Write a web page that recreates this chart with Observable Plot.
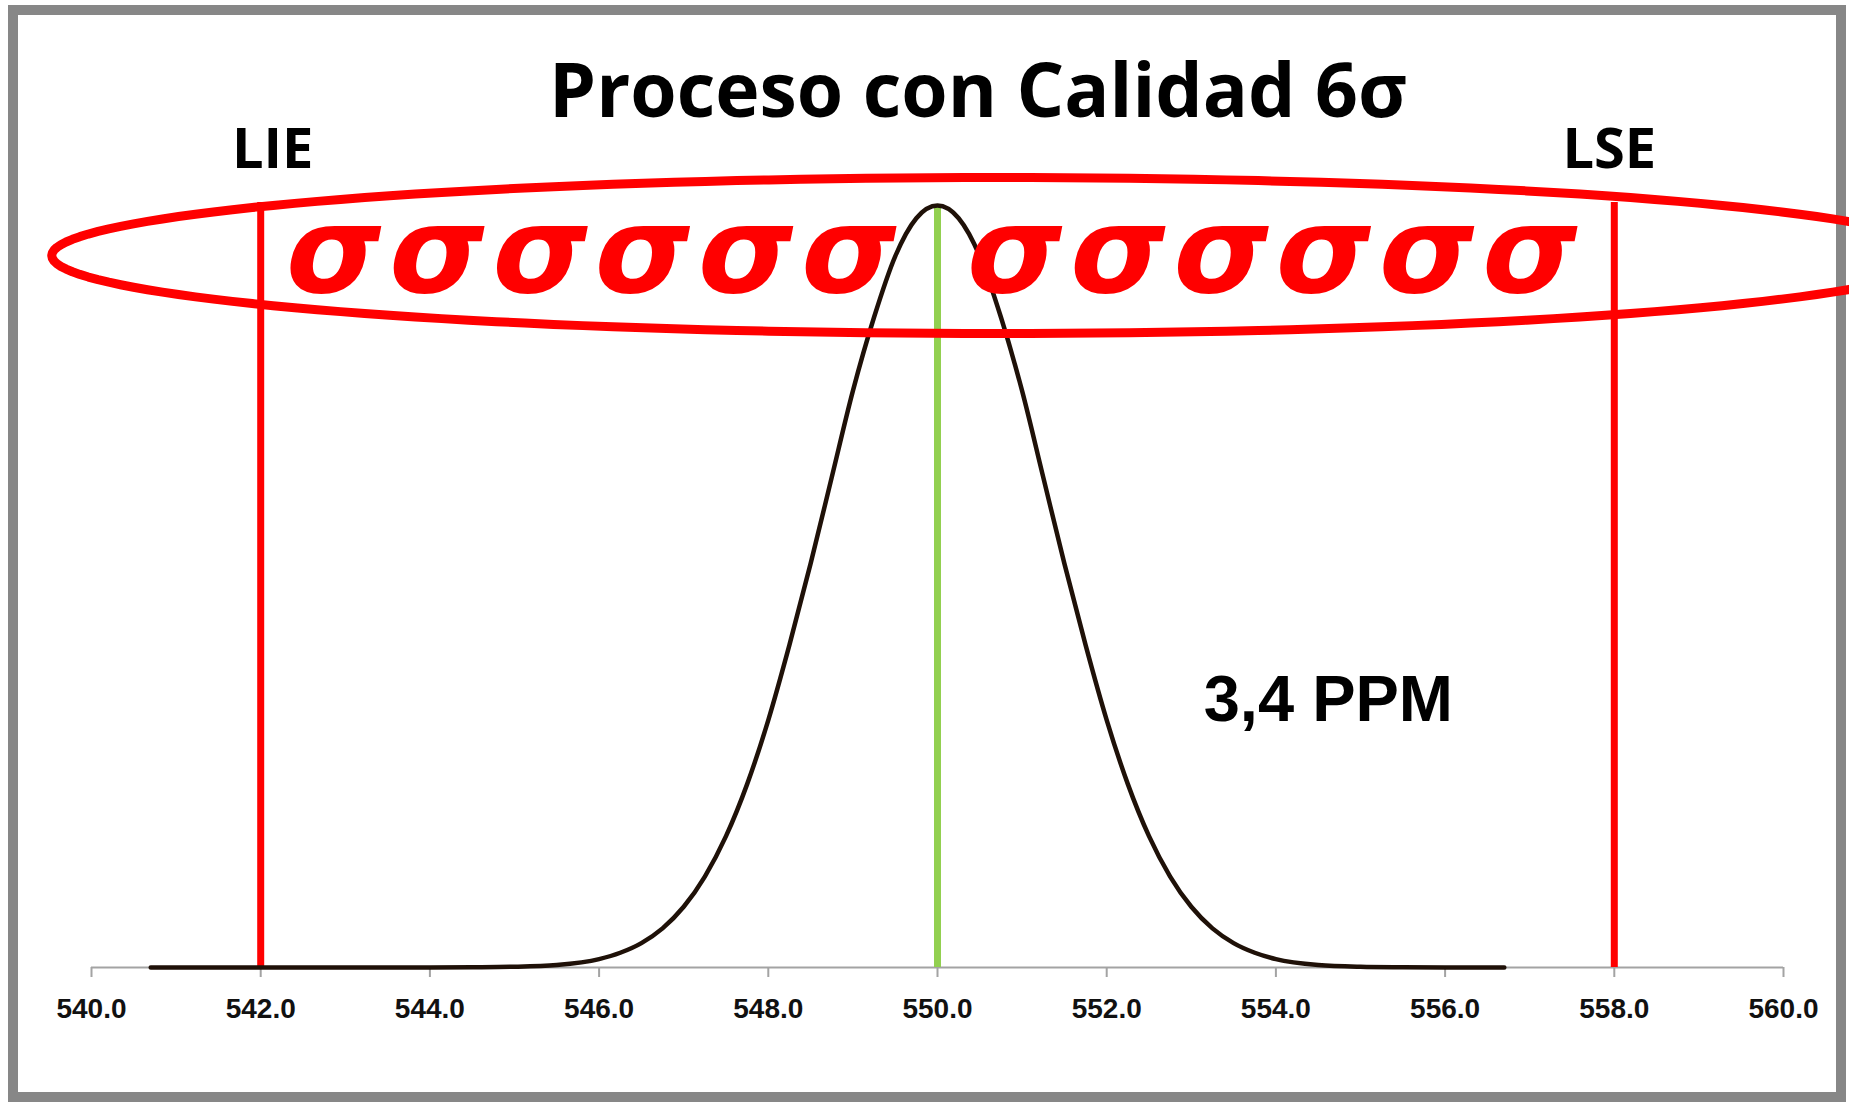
<!DOCTYPE html>
<html>
<head>
<meta charset="utf-8">
<script src="https://cdn.jsdelivr.net/npm/d3@7"></script>
<script src="https://cdn.jsdelivr.net/npm/@observablehq/plot@0.6"></script>
<style>
  html, body { margin: 0; padding: 0; background: #fff; width: 1849px; height: 1104px; overflow: hidden; }
  #frame { position: absolute; left: 8px; top: 5px; width: 1838px; height: 1097px; box-sizing: border-box; border: 10px solid #878787; z-index: 1; }
  #title { position: absolute; left: 0; top: 51px; width: 1956px; text-align: center; font-family: "Open Sans", sans-serif; font-weight: 700; font-size: 75px; line-height: 1; color: #000; margin: 0; z-index: 3; white-space: nowrap; }
  #chart { position: absolute; left: 0; top: 0; z-index: 2; }
  #chart svg { overflow: visible; }
</style>
</head>
<body>
<div id="frame"></div>
<h1 id="title">Proceso con Calidad 6σ</h1>
<div id="chart"></div>
<script>
// ---- data ----
const tickValues = [540, 542, 544, 546, 548, 550, 552, 554, 556, 558, 560];
const curveX = [540.7,541,541.5,542,542.5,543,543.5,544,544.5,545,545.5,546,
  546.25,546.5,546.75,547,547.25,547.5,547.75,548,548.25,548.5,548.75,549,549.25,549.5,549.75,550,
  550.25,550.5,550.75,551,551.25,551.5,551.75,552,552.25,552.5,552.75,553,553.25,553.5,553.75,554,
  554.5,555,555.5,556,556.5,556.7];
const curveY = [0,0,0,0,0,0,0,0,0.0001,0.0003,0.0010,0.0033,
  0.0058,0.0096,0.0154,0.0239,0.0358,0.0517,0.0722,0.0974,0.127,0.159,0.193,0.227,0.256,0.280,0.295,0.300,
  0.295,0.280,0.256,0.227,0.193,0.159,0.127,0.0974,0.0722,0.0517,0.0358,0.0239,0.0154,0.0096,0.0058,0.0033,
  0.0010,0.0003,0.0001,0,0,0];
const specLimits = [542, 558];
const specLabels = ["LIE", "LSE"];
const specTop = 0.3012;
const target = 550;
const targetTop = 0.2992;
const sigmaLeftX = [542.86, 544.08, 545.30, 546.51, 547.73, 548.95];
const sigmaRightX = [550.91, 552.13, 553.35, 554.56, 555.78, 557.00];
const ppmLabel = "3,4 PPM";
const ppmX = 554.62;
const ppmY = 0.1052;
const ellipseCx = 550.71, ellipseCy = 0.2803, ellipseRx = 11.18, ellipseRy = 0.0307;

// ---- derived tables ----
const curve = curveX.map((x, i) => ({x, y: curveY[i]}));
const ellipse = d3.range(0, 361, 2).map(a => {
  const t = a * Math.PI / 180;
  return {x: ellipseCx + ellipseRx * Math.cos(t), y: ellipseCy + ellipseRy * Math.sin(t)};
});
const sigmas = sigmaLeftX.concat(sigmaRightX);

const chart = Plot.plot({
  width: 1849,
  height: 1104,
  marginLeft: 91,
  marginRight: 66,
  marginTop: 205,
  marginBottom: 137,
  x: {domain: [540, 560]},
  y: {domain: [0, 0.30], axis: null},
  style: {background: "transparent", overflow: "visible"},
  marks: [
    Plot.ruleY([0], {stroke: "#a3a3a3", strokeWidth: 2}),
    Plot.axisX({ticks: tickValues, tickFormat: d => d.toFixed(1), tickSize: 10, tickPadding: 21,
      stroke: "#a3a3a3", strokeWidth: 2, fill: "#111", fontSize: 28, fontWeight: "bold",
      fontFamily: "Liberation Sans, Arial, sans-serif", label: null}),
    Plot.ruleX(specLimits, {y1: 0, y2: specTop, stroke: "#ff0000", strokeWidth: 7}),
    Plot.ruleX([target], {y1: 0, y2: targetTop, stroke: "#92d050", strokeWidth: 7}),
    Plot.line(curve, {x: "x", y: "y", stroke: "#1f1108", strokeWidth: 4.5, curve: "monotone-x"}),
    Plot.line(ellipse, {x: "x", y: "y", stroke: "#ff0000", strokeWidth: 9}),
    Plot.text(sigmas, {x: d => d, frameAnchor: "top", text: () => "σ", dy: 0,
      fill: "#ff0000", fontSize: 122, fontWeight: "bold", fontStyle: "italic", fontFamily: "DejaVu Sans"}),
    Plot.text([specLabels[0]], {x: () => specLimits[0], text: d => d, frameAnchor: "top", dy: -77, dx: 12,
      fill: "#000", fontSize: 56, fontWeight: "bold", fontFamily: "Open Sans"}),
    Plot.text([specLabels[1]], {x: () => specLimits[1], text: d => d, frameAnchor: "top", dy: -77, dx: -5,
      fill: "#000", fontSize: 56, fontWeight: "bold", fontFamily: "Open Sans"}),
    Plot.text([ppmLabel], {x: () => ppmX, y: () => ppmY, text: d => d,
      fill: "#000", fontSize: 65, fontWeight: "bold", fontFamily: "Liberation Sans, Arial, sans-serif"})
  ]
});
document.getElementById("chart").appendChild(chart);
</script>
</body>
</html>
